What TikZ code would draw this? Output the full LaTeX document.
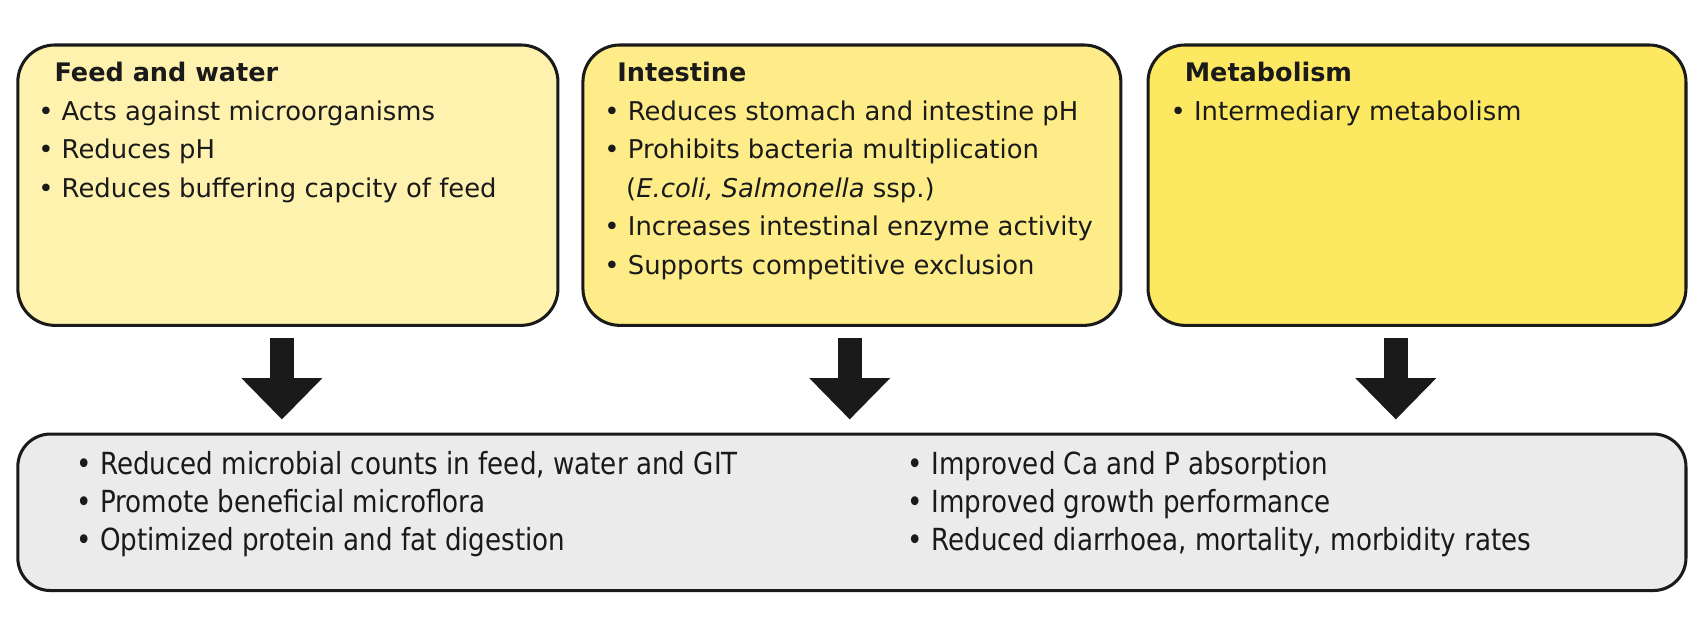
\documentclass[tikz,border=0pt]{standalone}
\usepackage{fontspec}
\setmainfont{DejaVu Sans}
\newfontfamily\condfont[FakeStretch=0.86]{DejaVu Sans}
\usetikzlibrary{arrows.meta,calc}
\definecolor{boxA}{HTML}{FEF2AE}
\definecolor{boxB}{HTML}{FEEC88}
\definecolor{boxC}{HTML}{FDE862}
\definecolor{boxD}{HTML}{EBEBEB}
\definecolor{ink}{HTML}{1A1A1A}
\tikzset{
  panel/.style={draw=ink, line width=2.8pt, rounded corners=34pt, inner sep=0pt},
  txt/.style={anchor=base west, inner sep=0pt, font=\fontsize{23.8}{28}\selectfont, text=ink},
  ttl/.style={txt, font=\fontsize{23.5}{28}\selectfont\bfseries},
  btxt/.style={txt, font=\fontsize{28}{32}\selectfont\condfont},
  bigarrow/.style={draw=ink, line width=22pt, -{Triangle[width=72pt,length=38pt]}}
}
\begin{document}
\begin{tikzpicture}[x=1pt,y=-1pt]
\useasboundingbox (0,0) rectangle (1568,575);
% boxes
\node[panel, fill=boxA, minimum width=497pt, minimum height=258pt, anchor=north west] (b1) at (15,40) {};
\node[panel, fill=boxB, minimum width=495pt, minimum height=258pt, anchor=north west] (b2) at (535,40) {};
\node[panel, fill=boxC, minimum width=495pt, minimum height=258pt, anchor=north west] (b3) at (1055,40) {};
\node[panel, fill=boxD, rounded corners=30pt, minimum width=1535pt, minimum height=144pt, anchor=north west] (b4) at (15,398) {};
% box 1 text
\node[ttl] (t1) at (50,75) {Feed and water};
\node[txt] (l11) at (35,110.5) {• Acts against microorganisms};
\node[txt] (l12) at (35,146) {• Reduces pH};
\node[txt] (l13) at (35,181.5) {• Reduces buffering capcity of feed};
% box 2 text
\node[ttl] (t2) at (568,75) {Intestine};
\node[txt] (l21) at (556,110.5) {• Reduces stomach and intestine pH};
\node[txt] (l22) at (556,146) {• Prohibits bacteria multiplication};
\node[txt] (l23) at (576,181.5) {(\textit{E.coli, Salmonella} ssp.)};
\node[txt] (l24) at (556,217) {• Increases intestinal enzyme activity};
\node[txt] (l25) at (556,252.5) {• Supports competitive exclusion};
% box 3 text
\node[ttl] (t3) at (1090,75) {Metabolism};
\node[txt] (l31) at (1077,110.5) {• Intermediary metabolism};
% bottom text
\node[btxt] (m1) at (70,437) {• Reduced microbial counts in feed, water and GIT};
\node[btxt] (m2) at (70,472) {• Promote beneficial microflora};
\node[btxt] (m3) at (70,507) {• Optimized protein and fat digestion};
\node[btxt] (m4) at (835,437) {• Improved Ca and P absorption};
\node[btxt] (m5) at (835,472) {• Improved growth performance};
\node[btxt] (m6) at (835,507) {• Reduced diarrhoea, mortality, morbidity rates};
% arrows
\coordinate (a1s) at ($(b1.south)+(-5.5,10)$);
\coordinate (a2s) at ($(b2.south)+(-2,10)$);
\coordinate (a3s) at ($(b3.south)+(-19.5,10)$);
\draw[bigarrow] (a1s) -- ($(a1s |- b4.north)+(0,-12)$);
\draw[bigarrow] (a2s) -- ($(a2s |- b4.north)+(0,-12)$);
\draw[bigarrow] (a3s) -- ($(a3s |- b4.north)+(0,-12)$);
\end{tikzpicture}
\end{document}
